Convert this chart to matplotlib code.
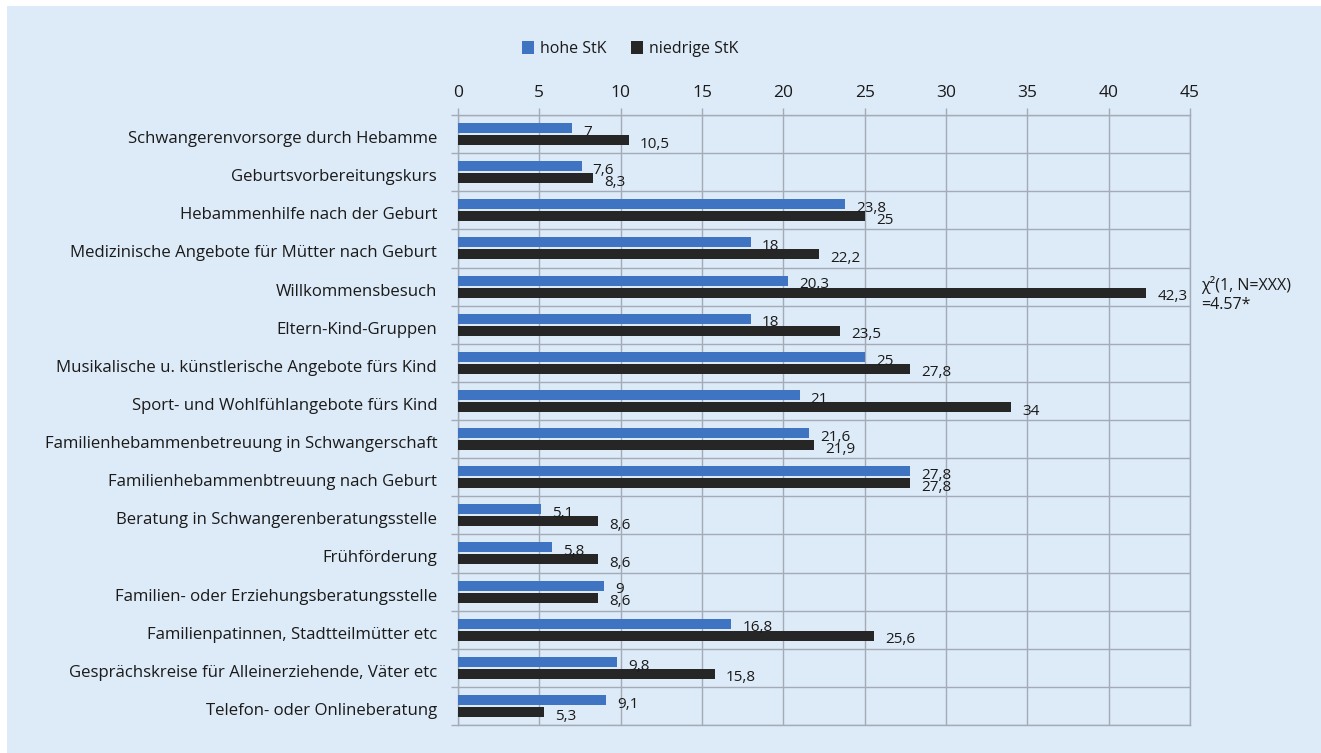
import matplotlib
matplotlib.use("Agg")
import matplotlib.pyplot as plt
import matplotlib.transforms as mtransforms
from matplotlib.patches import Patch
import numpy as np

categories = [
    "Schwangerenvorsorge durch Hebamme",
    "Geburtsvorbereitungskurs",
    "Hebammenhilfe nach der Geburt",
    "Medizinische Angebote für Mütter nach Geburt",
    "Willkommensbesuch",
    "Eltern-Kind-Gruppen",
    "Musikalische u. künstlerische Angebote fürs Kind",
    "Sport- und Wohlfühlangebote fürs Kind",
    "Familienhebammenbetreuung in Schwangerschaft",
    "Familienhebammenbtreuung nach Geburt",
    "Beratung in Schwangerenberatungsstelle",
    "Frühförderung",
    "Familien- oder Erziehungsberatungsstelle",
    "Familienpatinnen, Stadtteilmütter etc",
    "Gesprächskreise für Alleinerziehende, Väter etc",
    "Telefon- oder Onlineberatung",
]
hohe = [7, 7.6, 23.8, 18, 20.3, 18, 25, 21, 21.6, 27.8, 5.1, 5.8, 9, 16.8, 9.8, 9.1]
niedrige = [10.5, 8.3, 25, 22.2, 42.3, 23.5, 27.8, 34, 21.9, 27.8, 8.6, 8.6, 8.6, 25.6, 15.8, 5.3]
series_names = ["hohe StK", "niedrige StK"]
x_ticks = [0, 5, 10, 15, 20, 25, 30, 35, 40, 45]
annotation = "χ²(1, N=XXX)\n=4.57*"

BG = "#ddeaf7"
BLUE = "#3f74c2"
BLACK = "#262626"
GRID = "#a3acb6"
TXT = "#1a1a1a"

plt.rcParams['font.family'] = ['Open Sans', 'DejaVu Sans']

W, H = 1321, 753
fig = plt.figure(figsize=(W / 100, H / 100), dpi=100, facecolor="white")
fig.patches.append(plt.Rectangle((7 / W, 0), 1 - 7 / W, 1 - 6 / H, transform=fig.transFigure,
                                 facecolor=BG, edgecolor="none", zorder=-10))

ax = fig.add_axes([458 / W, 1 - 725 / H, (1190 - 458) / W, (725 - 115) / H])
ax.set_facecolor(BG)

y = np.arange(len(categories))
off = 0.157
h = 0.26
ax.barh(y - off, hohe, height=h, color=BLUE, zorder=3)
ax.barh(y + off, niedrige, height=h, color=BLACK, zorder=3)

def fmt(v):
    return ("%g" % v).replace(".", ",")

for yi, v in zip(y, hohe):
    ax.annotate(fmt(v), (v, yi - off + 0.11), xytext=(8, 0), textcoords="offset points",
                ha="left", va="center", fontsize=11, color=TXT, zorder=4)
for yi, v in zip(y, niedrige):
    ax.annotate(fmt(v), (v, yi + off + 0.11), xytext=(8, 0), textcoords="offset points",
                ha="left", va="center", fontsize=11, color=TXT, zorder=4)

ax.set_xlim(0, 45)
ax.set_ylim(len(categories) - 0.5, -0.5)
ax.xaxis.tick_top()
ax.set_xticks(x_ticks)
ax.set_xticklabels([str(t) for t in x_ticks], fontsize=12.5, color=TXT)
ax.tick_params(axis="x", which="major", length=5, width=1, color=GRID, pad=5, direction="out")

ax.set_yticks(y)
ax.set_yticklabels(categories, fontsize=12.1, color=TXT)
ax.tick_params(axis="y", which="major", length=0, pad=15)
shift = mtransforms.ScaledTranslation(0, -3 / 100, fig.dpi_scale_trans)
for lab in ax.get_yticklabels():
    lab.set_transform(lab.get_transform() + shift)
ax.set_yticks(np.arange(len(categories) + 1) - 0.5, minor=True)
ax.tick_params(axis="y", which="minor", length=5, width=1, color=GRID, direction="out")

ax.grid(True, axis="x", which="major", color=GRID, linewidth=1, zorder=1)
ax.grid(True, axis="y", which="minor", color=GRID, linewidth=1, zorder=1)
for s in ax.spines.values():
    s.set_color(GRID)
    s.set_linewidth(1)
    s.set_zorder(2)

ax.text(1.0 + 11 / (1190 - 458), 4.2, annotation, transform=ax.get_yaxis_transform(),
        fontsize=11.5, color=TXT, ha="left", va="center", linespacing=1.25,
        bbox=dict(boxstyle="square,pad=0.35", facecolor=BG, edgecolor="none"),
        zorder=5, clip_on=False)

handles = [Patch(facecolor=BLUE, edgecolor="none"), Patch(facecolor=BLACK, edgecolor="none")]
fig.legend(handles, series_names, loc="center", bbox_to_anchor=(630 / W, 1 - 49 / H),
           ncol=2, frameon=False, fontsize=11.5, handlelength=0.8, handleheight=0.8,
           handletextpad=0.35, columnspacing=1.5, labelcolor=TXT)

fig.savefig("out.png", dpi=100, facecolor="white")
